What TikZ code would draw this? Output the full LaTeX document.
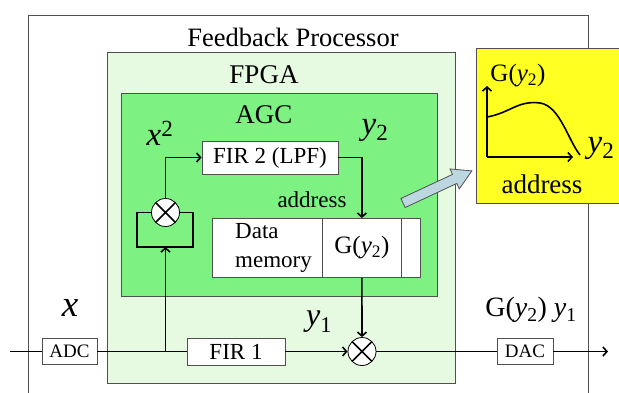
\documentclass[tikz,border=0pt]{standalone}
\usepackage{fontspec}
\setmainfont{Liberation Serif}
\usetikzlibrary{arrows.meta,calc}
\newcommand{\fsz}[1]{\fontsize{#1}{#1}\selectfont}
\definecolor{fpgac}{HTML}{E6FAE1}
\definecolor{agcc}{HTML}{7DF283}
\definecolor{yelc}{HTML}{FFFF22}
\definecolor{bluec}{HTML}{BDD7E0}
\definecolor{edgec}{HTML}{505050}
\begin{document}
\begin{tikzpicture}[x=1pt,y=-1pt,
  boxs/.style={draw=edgec, fill=white, line width=0.8pt, inner sep=0pt},
  mult/.style={circle, draw=black, fill=white, line width=0.8pt, minimum size=28pt, inner sep=0pt,
    path picture={\draw[line width=1.6pt] (path picture bounding box.north west) -- (path picture bounding box.south east)
      (path picture bounding box.north east) -- (path picture bounding box.south west);}},
  wire/.style={line width=1.6pt},
  arr/.style={wire, -{Straight Barb[length=4pt,width=9pt]}},
  lbl/.style={inner sep=0pt}]
\useasboundingbox (0,0) rectangle (619,392);
% outer box
\draw[edgec, line width=0.8pt] (28,400) -- (28,15) -- (588,15) -- (588,400);
\node[lbl] (title) at (293,37) {\fsz{26.5}Feedback Processor};
% FPGA
\draw[edgec, fill=fpgac, line width=0.8pt] (107,52) rectangle (455,383);
\node[lbl] (fpga) at (264,75) {\fsz{27}FPGA};
% AGC
\draw[edgec, fill=agcc, line width=0.8pt] (121,93) rectangle (437,296);
\node[lbl] (agc) at (264,115) {\fsz{27}AGC};
\node[lbl] (xsq) at (160,133) {\fsz{33}\textit{x}\textsuperscript{2}};
\node[lbl] (ytwo) at (375,130) {\fsz{33}\textit{y}\textsubscript{2}};
% FIR2
\node[boxs, minimum width=136pt, minimum height=33pt] (fir2) at (270,157.5) {\fsz{23}FIR 2 (LPF)};
% multiplier 1 and loop
\node[mult] (m1) at (165.5,212.5) {};
\coordinate (l1) at (137,212.5);
\coordinate (l2) at (137,247);
\coordinate (l3) at (193,247);
\coordinate (l4) at (193,212.5);
\coordinate (lb) at (165.5,247);
\draw[wire] (m1.west) -- (l1) -- (l2) -- (l3) -- (l4) -- (m1.east);
\node[lbl] (addr) at (312,200) {\fsz{23}address};
% data memory
\node[boxs, minimum width=110pt, minimum height=59pt, anchor=north west] (dm1) at (212,218) {};
\node[lbl, align=left, anchor=west, font=\fsz{23}] (dmt) at (235,247.5) {Data\\[6pt]memory};
\node[boxs, minimum width=79pt, minimum height=59pt, anchor=north west] (dm2) at (322,218) {\fsz{25}G(\textit{y}\textsubscript{2})};
\node[boxs, minimum width=19pt, minimum height=59pt, anchor=north west] (dm3) at (401,218) {};
% main path
\coordinate (inp) at (10,351.5);
\node[boxs, minimum width=55pt, minimum height=26pt] (adc) at (69.5,351.5) {\fsz{19}ADC};
\coordinate (br) at (165.5,351.5);
\node[boxs, minimum width=98pt, minimum height=27pt] (fir1) at (236,351.5) {\fsz{23}FIR 1};
\node[mult] (m2) at (362,351.5) {};
\node[boxs, minimum width=56pt, minimum height=26pt] (dac) at (525,351.5) {\fsz{19}DAC};
\coordinate (outp) at (608,351.5);
\draw[wire] (inp) -- (adc.west);
\draw[wire] (adc.east) -- (fir1.west);
\draw[arr] (fir1.east) -- (m2.west);
\draw[wire] (m2.east) -- (dac.west);
\draw[arr] (dac.east) -- (outp);
\draw[arr] (br) -- (lb);
\draw[arr] (m1.north) |- (fir2.west);
\draw[arr] (fir2.east) -| (dm2.north);
\draw[arr] (dm2.south) -- (m2.north);
\node[lbl] (xl) at (70,308) {\fsz{37}\textit{x}};
\node[lbl] (y1l) at (319,322) {\fsz{32}\textit{y}\textsubscript{1}};
\node[lbl] (gl) at (531,310) {\fsz{28}G(\textit{y}\textsubscript{2}) \textit{y}\textsubscript{1}};
% yellow box
\draw[edgec, fill=yelc, line width=0.8pt] (476,48) rectangle (625,203);
\coordinate (org) at (487,157);
\coordinate (ytop) at (487,86);
\coordinate (xend) at (573,157);
\draw[arr] (org) -- (ytop);
\draw[arr] (org) -- (xend);
\draw[line width=1.6pt] (487,117) .. controls (510,113) and (518,100) .. (540,103) .. controls (560,106) and (568,140) .. (580,155);
\node[lbl] (gy) at (518,76) {\fsz{25}G(\textit{y}\textsubscript{2})};
\node[lbl] (y2y) at (601,148) {\fsz{33}\textit{y}\textsubscript{2}};
\node[lbl] (addy) at (542,184) {\fsz{27}address};
% block arrow
\begin{scope}[shift={(403,203)}, rotate=25]
\draw[edgec, fill=bluec, line width=0.8pt] (0,-5) -- (57,-5) -- (57,-11) -- (76,0) -- (57,11) -- (57,5) -- (0,5) -- cycle;
\end{scope}
\end{tikzpicture}
\end{document}
